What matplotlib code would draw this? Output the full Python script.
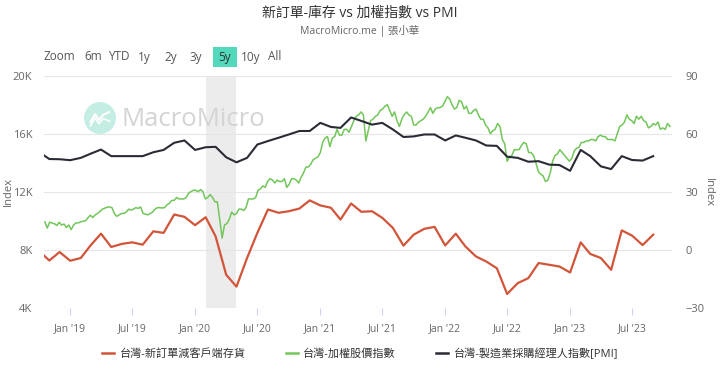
import matplotlib
matplotlib.use("Agg")
import matplotlib.pyplot as plt
import matplotlib.dates as mdates
import matplotlib.ticker as mticker
from matplotlib.patches import Circle, Rectangle
from matplotlib.lines import Line2D
import pandas as pd

plt.rcParams["font.family"] = ["Open Sans", "Noto Sans CJK TC", "DejaVu Sans"]

# monthly series (first of month), Oct 2018 - Sep 2023
months = pd.date_range("2018-10-01", "2023-09-01", freq="MS")
orders_minus_inv = [
    -0.5, -5.6, -1.2,
    -5.7, -4.3, 2.1, 8.3, 1.4, 3.0, 3.8, 2.6, 9.5, 8.7, 18.2, 17.0,
    12.7, 16.8, 6.9, -13.0, -19.1, -4.3, 8.7, 20.8, 19.1, 19.9, 21.3, 25.5,
    22.9, 21.7, 15.6, 23.9, 19.6, 19.9, 16.5, 11.3, 2.1, 7.8, 10.8, 11.8,
    2.2, 8.3, 1.7, -3.5, -6.1, -9.6, -22.9, -17.3, -14.7, -6.9, -7.8, -8.7,
    -11.8, 3.8, -2.2, -4.3, -10.4, 10.0, 7.3, 2.4, 7.8,
]
pmi = [
    50.6, 46.9, 46.8,
    46.3, 47.5, 49.6, 51.8, 48.4, 48.4, 48.4, 48.4, 50.4, 51.6, 55.3, 56.5,
    51.6, 53.0, 53.2, 47.8, 45.2, 47.5, 54.4, 56.2, 57.9, 59.6, 61.4, 61.4,
    65.6, 63.5, 63.0, 68.4, 66.6, 64.7, 65.6, 62.2, 58.3, 58.6, 59.6, 59.6,
    56.5, 59.1, 57.9, 56.5, 53.9, 53.7, 48.1, 47.5, 45.5, 45.8, 44.0, 43.8,
    40.8, 51.6, 48.4, 43.1, 41.7, 48.4, 46.4, 46.1, 48.4,
]

# TAIEX weekly closes (Fridays from 2018-10-19)
taiex_2018 = [9919, 9489, 9906, 9830, 9790, 9670, 9888, 9700, 9770, 9530, 9700]
taiex_2019 = [
    9382, 9700, 9850, 9850, 9930, 9960, 10000, 10200,
    10380, 10220, 10400, 10500, 10640, 10800, 10860, 10930, 10950,
    10900, 10500, 10300, 10400, 10500, 10500, 10600, 10800, 10730,
    10800, 10900, 10850, 10950, 10500, 10450, 10400, 10500, 10600,
    10800, 10900, 10900, 10880, 10900, 11100, 11200, 11400,
    11400, 11600, 11500, 11500, 11500, 11600, 11900, 12000, 12100,
]
taiex_2020 = [
    12100, 12000, 12150, 12000, 11500, 11600, 11800, 11600, 11300,
    11300, 10100, 8800, 9700, 9800, 10100, 10600, 10400,
    10500, 10800, 10800, 10700, 10900, 11500, 11500, 11500, 11600,
    12100, 12200, 12400, 12300, 12700, 12900, 12800, 12600, 12800,
    12700, 12700, 12900, 12300, 12500, 12900, 12900, 12800, 12600,
    13000, 13300, 13700, 13700, 13900, 14200, 14300, 14400,
]
taiex_2021 = [
    14700, 15400, 15700, 15800, 15100, 15700, 15800, 16300, 15900,
    15900, 16300, 16300, 16100, 16500, 16900, 17200, 17300, 17500,
    17300, 15500, 16200, 16900, 17000, 17200, 17300, 17600,
    17700, 17900, 18000, 17600, 17200, 17500, 16900, 16500, 17000,
    17300, 17500, 17300, 17200, 16600, 16600, 16800, 16900, 17000,
    17200, 17500, 17800, 17400, 17700, 17800, 17800, 17900, 18200,
]
taiex_2022 = [
    18550, 18400, 18000, 17700, 17800, 18300, 18200, 17700,
    17900, 17400, 17400, 17600, 17700, 17300, 17000, 17000, 16600,
    16400, 16000, 16200, 16300, 16700, 16500, 15600, 15300,
    14100, 14400, 14500, 14900, 14900, 14900, 15200, 15400, 15300,
    14700, 14700, 14500, 14000, 13400, 13200, 13100, 12700, 12800,
    13300, 14100, 14500, 14600, 14900, 14700, 14500, 14300, 14100,
]
taiex_2023 = [
    14300, 14800, 15000, 15050, 15400, 15400, 15500, 15500,
    15600, 15600, 15500, 15800, 15900, 15800, 15800, 15600, 15600,
    15600, 15500, 16000, 16500, 16600, 16800, 17300, 17000, 16900,
    16700, 17200, 17000, 17200, 16900, 16800, 16400, 16500,
    16700, 16600, 16800, 16300, 16400, 16300, 16700, 16500,
]
taiex = taiex_2018 + taiex_2019 + taiex_2020 + taiex_2021 + taiex_2022 + taiex_2023
weeks = pd.date_range("2018-10-19", periods=len(taiex), freq="W-FRI")

labels = ["台灣-新訂單減客戶端存貨", "台灣-加權股價指數", "台灣-製造業採購經理人指數[PMI]"]
colors = ["#d2553a", "#72c65a", "#2a2c35"]
toolbar = ["Zoom", "6m", "YTD", "1y", "2y", "3y", "5y", "10y", "All"]
toolbar_x = [44, 84, 108, 138, 164, 190, 218, 241, 268]

W, H = 720, 368
fig = plt.figure(figsize=(W / 100, H / 100), dpi=100)

ax = fig.add_axes([43.5 / W, 1 - 307.7 / H, (671.7 - 43.5) / W, (307.7 - 75.7) / H])
ax2 = ax.twinx()

ax.axvspan(pd.Timestamp("2020-02-01"), pd.Timestamp("2020-04-30"), color="#ececec", lw=0, zorder=0)

ax.plot(weeks, taiex, color=colors[1], lw=1.1, zorder=3)
ax2.plot(months, orders_minus_inv, color=colors[0], lw=1.6, zorder=3)
ax2.plot(months, pmi, color=colors[2], lw=1.5, zorder=4)

ax.set_xlim(pd.Timestamp("2018-10-15"), pd.Timestamp("2023-10-25"))
ax.set_ylim(4000, 20000)
ax2.set_ylim(-30, 90)
ax.set_yticks([4000, 8000, 12000, 16000, 20000])
ax2.set_yticks([-30, 0, 30, 60, 90])
ax.yaxis.set_major_formatter(mticker.FuncFormatter(lambda v, p: f"{int(v / 1000)}K"))

ax.grid(axis="y", color="#e6e6e6", lw=0.8)
ax.set_axisbelow(True)
for a in (ax, ax2):
    for s in a.spines.values():
        s.set_visible(False)
ax.tick_params(axis="y", length=0, pad=8, labelsize=8, labelcolor="#666666")
ax2.tick_params(axis="y", length=0, pad=10, labelsize=8, labelcolor="#666666")

ax.xaxis.set_major_locator(mdates.MonthLocator(bymonth=[1, 7]))
ax.xaxis.set_major_formatter(mdates.DateFormatter("%b '%y"))
ax.tick_params(axis="x", length=5, width=0.8, color="#ccd6eb", pad=6, labelsize=7.5, labelcolor="#666666")

fig.text(0.011, 1 - 192 / H, "Index", rotation=90, ha="center", va="center", fontsize=8, color="#666666")
fig.text(708 / W, 1 - 192 / H, "Index", rotation=270, ha="center", va="center", fontsize=8, color="#666666")

# title block
fig.text(0.5, 1 - 13 / H, "新訂單-庫存 vs 加權指數 vs PMI", ha="center", va="center", fontsize=10, color="#333333")
fig.text(0.5, 1 - 31 / H, "MacroMicro.me | 張小華", ha="center", va="center", fontsize=7.5, color="#666666")

# range selector buttons
fig.add_artist(Rectangle((213 / W, 1 - 67 / H), 24 / W, 20 / H, transform=fig.transFigure,
                         color="#52d9bb", lw=0))
for t, x in zip(toolbar, toolbar_x):
    fig.text(x / W, 1 - 57 / H, t, ha="left", va="center", fontsize=8.5,
             color="#333333" if t == "5y" else "#555555")

# watermark
logo = fig.add_axes([84 / W, 1 - 134 / H, 32 / W, 32 / H])
logo.set_xlim(0, 1)
logo.set_ylim(0, 1)
logo.axis("off")
logo.add_patch(Circle((0.5, 0.5), 0.5, color="#c4eee4", lw=0))
logo.plot([0.2, 0.35, 0.47, 0.6, 0.78], [0.38, 0.62, 0.44, 0.6, 0.68], color="white", lw=1.5)
logo.plot([0.2, 0.35, 0.47, 0.6, 0.8], [0.26, 0.5, 0.32, 0.48, 0.4], color="white", lw=1.2)
fig.text(122 / W, 1 - 119 / H, "MacroMicro", ha="left", va="center", fontsize=18.5,
         color="#d4d4d4")

handles = [Line2D([0], [0], color=c, lw=1.8) for c in colors]
fig.legend(handles, labels, loc="center", bbox_to_anchor=(0.5, 1 - 354 / H), ncol=3,
           frameon=False, fontsize=8, handlelength=1.1, handletextpad=0.5,
           columnspacing=3.6, labelcolor="#333333")

fig.savefig("out.png", dpi=100)
